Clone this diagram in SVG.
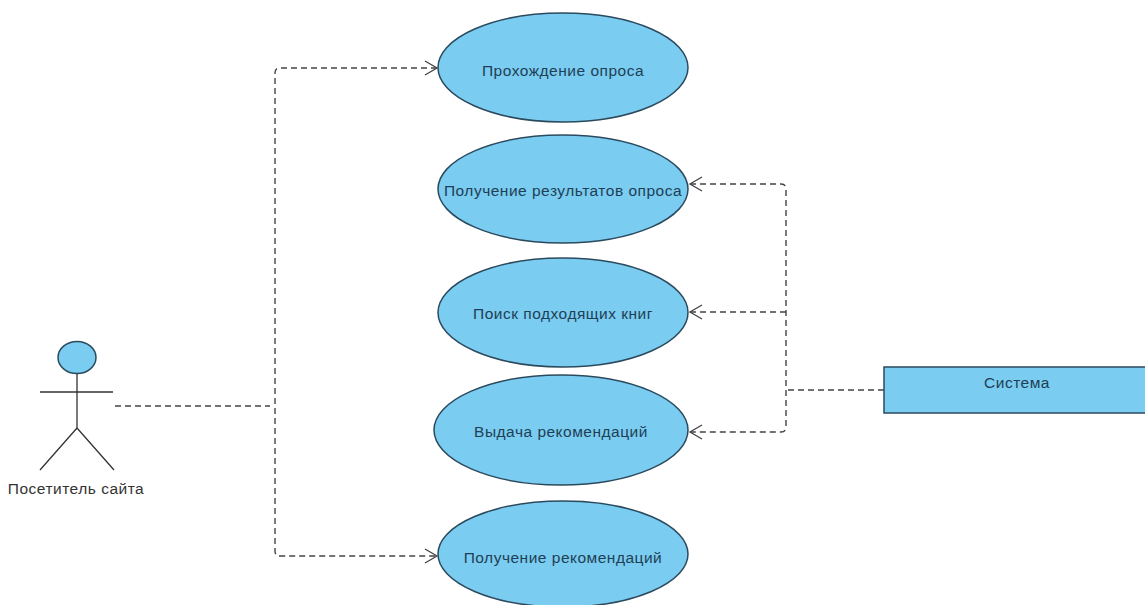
<svg xmlns="http://www.w3.org/2000/svg" width="1145" height="605" viewBox="0 0 1145 605">
<style>
.uc{fill:#7accf1;stroke:#2b4a5e;stroke-width:1.5}
.lbl{font-family:"Liberation Sans",Arial,sans-serif;font-size:15.5px;letter-spacing:0.5px;fill:#1f3f55;text-anchor:middle;dominant-baseline:central}
.act{fill:none;stroke:#333;stroke-width:1.3}
.dash{fill:none;stroke:#444;stroke-width:1.4;stroke-dasharray:6 4}
.arr{fill:none;stroke:#444;stroke-width:1.3}
</style>
<rect width="1145" height="605" fill="#fff"/>
<g id="connectors">
<path class="dash" d="M115,406 H270"/>
<path class="dash" d="M437,68 H280 Q275,68 275,73 V551 Q275,556 280,556 H437"/>
<path class="arr" d="M425,61 L437,68 L425,75"/>
<path class="arr" d="M425,549 L437,556 L425,563"/>
<path class="dash" d="M884,390 H786"/>
<path class="dash" d="M690,184 H781 Q786,184 786,189 V427 Q786,432 781,432 H690"/>
<path class="dash" d="M690,312 H786"/>
<path class="arr" d="M702,177 L690,184 L702,191"/>
<path class="arr" d="M702,305 L690,312 L702,319"/>
<path class="arr" d="M702,425 L690,432 L702,439"/>
</g>
<g id="actor">
<ellipse cx="77" cy="357.5" rx="19" ry="16" fill="#7accf1" stroke="#2b4a5e" stroke-width="1.5"/>
<path class="act" d="M77,373.5 V428 M40,392 H113 M77,428 L40,470 M77,428 L114,470"/>
<text x="76" y="488" class="lbl" style="fill:#333">Посетитель сайта</text>
</g>
<g id="uc1">
<ellipse class="uc" cx="563" cy="67.5" rx="125" ry="54.5"/>
<text x="563" y="70" class="lbl">Прохождение опроса</text>
</g>
<g id="uc2">
<ellipse class="uc" cx="563" cy="189" rx="125" ry="54"/>
<text x="563" y="190" class="lbl">Получение результатов опроса</text>
</g>
<g id="uc3">
<ellipse class="uc" cx="563" cy="312.5" rx="125" ry="54.5"/>
<text x="563" y="313" class="lbl">Поиск подходящих книг</text>
</g>
<g id="uc4">
<ellipse class="uc" cx="561" cy="430" rx="127" ry="55"/>
<text x="561" y="431" class="lbl">Выдача рекомендаций</text>
</g>
<g id="uc5">
<ellipse class="uc" cx="563" cy="554" rx="125" ry="53"/>
<text x="563" y="557" class="lbl">Получение рекомендаций</text>
</g>
<g id="system">
<rect x="884" y="367" width="266" height="46" fill="#7accf1" stroke="#2b4a5e" stroke-width="1.5"/>
<text x="1017" y="382" class="lbl">Система</text>
</g>
</svg>
